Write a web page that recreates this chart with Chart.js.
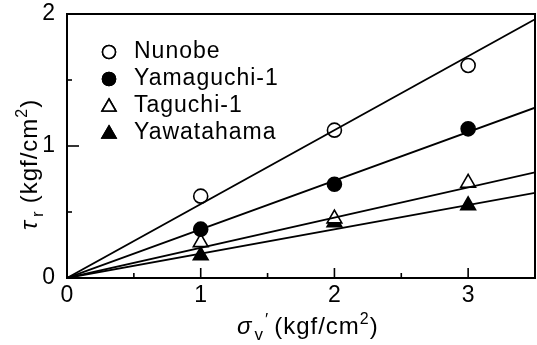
<!DOCTYPE html>
<html>
<head>
<meta charset="utf-8">
<script src="https://cdn.jsdelivr.net/npm/chart.js@4.4.0/dist/chart.umd.min.js"></script>
<style>
  html, body { margin: 0; padding: 0; background: #fff; }
  #wrap { width: 537px; height: 345px; position: relative; }
</style>
</head>
<body>
<div id="wrap"><canvas id="chart"></canvas></div>
<script>
// measured points
const seriesNames = ['Nunobe', 'Yamaguchi-1', 'Taguchi-1', 'Yawatahama'];
const stressX = [1, 2, 3];
const nunobe = [0.62, 1.12, 1.61];
const yamaguchi1 = [0.37, 0.71, 1.13];
const taguchi1 = [0.27, 0.45, 0.72];
const yawatahama = [0.17, 0.42, 0.55];

// fitted lines through the origin (value at the left and right edge)
const fitX = [0, 3.5];
const fitNunobe = [0, 1.96];
const fitYamaguchi1 = [0, 1.29];
const fitTaguchi1 = [0, 0.80];
const fitYawatahama = [0, 0.645];

// tick labels
const xTickLabels = [0, 1, 2, 3];
const yTickLabels = [0, 1, 2];

const FONT = "'Liberation Sans', Arial, Helvetica, sans-serif";

const toPoints = (xs, ys) => xs.map((x, i) => ({ x: x, y: ys[i] }));

const markers = [
  { style: 'circle', fill: '#fff', radius: 7 },
  { style: 'circle', fill: '#000', radius: 7 },
  { style: 'triangle', fill: '#fff', radius: 8.5 },
  { style: 'triangle', fill: '#000', radius: 8.5 },
];
const pointData = [nunobe, yamaguchi1, taguchi1, yawatahama];
const fitData = [fitNunobe, fitYamaguchi1, fitTaguchi1, fitYawatahama];

const datasets = [];
fitData.forEach((ys, i) => {
  datasets.push({
    label: seriesNames[i] + ' fit',
    data: toPoints(fitX, ys),
    showLine: true,
    borderColor: '#000',
    borderWidth: 1.8,
    pointRadius: 0,
    fill: false,
  });
});
pointData.forEach((ys, i) => {
  datasets.push({
    label: seriesNames[i],
    data: toPoints(stressX, ys),
    showLine: false,
    pointStyle: markers[i].style,
    pointRadius: markers[i].radius,
    pointBackgroundColor: markers[i].fill,
    pointBorderColor: '#000',
    pointBorderWidth: 1.6,
  });
});

// draw text pieces one after another, returns the end x
function drawRun(ctx, parts, x, base) {
  parts.forEach(p => {
    ctx.font = p.font;
    ctx.letterSpacing = p.spacing || '0px';
    ctx.fillText(p.text, x + (p.dx || 0), base + (p.dy || 0));
    x += ctx.measureText(p.text).width + (p.dx || 0) + (p.after || 0);
  });
  ctx.letterSpacing = '0px';
  return x;
}

// frame, inward ticks, legend and axis titles
const decorations = {
  id: 'decorations',
  afterDraw(chart) {
    const ctx = chart.ctx;
    const a = chart.chartArea;
    const xs = chart.scales.x;
    const ys = chart.scales.y;
    ctx.save();
    ctx.strokeStyle = '#000';
    ctx.lineWidth = 2;
    ctx.strokeRect(a.left, a.top, a.right - a.left, a.bottom - a.top);

    ctx.lineWidth = 1.6;
    xs.ticks.forEach(t => {
      if (t.value <= xs.min || t.value >= xs.max) return;
      const px = xs.getPixelForValue(t.value);
      const len = Number.isInteger(t.value) ? 10 : 5;
      ctx.beginPath();
      ctx.moveTo(px, a.bottom);
      ctx.lineTo(px, a.bottom - len);
      ctx.stroke();
    });
    ys.ticks.forEach(t => {
      if (t.value <= ys.min || t.value >= ys.max) return;
      const py = ys.getPixelForValue(t.value);
      const len = Number.isInteger(t.value) ? 12 : 5;
      ctx.beginPath();
      ctx.moveTo(a.left, py);
      ctx.lineTo(a.left + len, py);
      ctx.stroke();
    });

    // legend
    ctx.textBaseline = 'middle';
    const rowY = [52, 79, 106, 133];
    seriesNames.forEach((name, i) => {
      const m = markers[i];
      const my = rowY[i];
      ctx.lineWidth = 1.6;
      ctx.fillStyle = m.fill;
      ctx.strokeStyle = '#000';
      Chart.helpers.drawPoint(ctx, {
        pointStyle: m.style,
        radius: m.style === 'circle' ? 6.5 : 8,
        borderWidth: 1.6,
        rotation: 0,
      }, 109, my + (m.style === 'triangle' ? 1 : 0));
      ctx.fill();
      ctx.stroke();
      ctx.fillStyle = '#000';
      ctx.font = '23px ' + FONT;
      ctx.letterSpacing = '1px';
      ctx.fillText(name, 134, my);
      ctx.letterSpacing = '0px';
    });

    // x title: sigma_v' (kgf/cm2)
    ctx.textBaseline = 'alphabetic';
    const f = '24px ' + FONT;
    drawRun(ctx, [
      { text: '\u03C3', font: 'italic 24px ' + FONT, after: 3 },
      { text: 'v', font: '17px ' + FONT, dy: 6 },
      { text: '\u2032', font: '17px ' + FONT, dx: 2, dy: -9, after: 6 },
      { text: '(kgf/cm', font: f, spacing: '1px' },
      { text: '2', font: '16px ' + FONT, dy: -10, after: 1 },
      { text: ')', font: f },
    ], 237, 334);

    // y title: tau_r (kgf/cm2), rotated
    ctx.translate(37, 230);
    ctx.rotate(-Math.PI / 2);
    drawRun(ctx, [
      { text: '\u03C4', font: 'italic 24px ' + FONT, after: 4 },
      { text: 'r', font: '17px ' + FONT, dy: 6, after: 8 },
      { text: '(kgf/cm', font: f, spacing: '1px' },
      { text: '2', font: '16px ' + FONT, dy: -10, after: 1 },
      { text: ')', font: f },
    ], 0, 0);
    ctx.restore();
  }
};

new Chart(document.getElementById('chart'), {
  type: 'scatter',
  data: { datasets: datasets },
  options: {
    responsive: true,
    maintainAspectRatio: false,
    animation: false,
    layout: {
      autoPadding: false,
      padding: { top: 14, right: 2, left: 0, bottom: 0 },
    },
    plugins: {
      legend: { display: false },
      tooltip: { enabled: false },
    },
    scales: {
      x: {
        type: 'linear',
        min: 0,
        max: 3.5,
        grid: { display: false },
        border: { display: false },
        ticks: {
          stepSize: 0.5,
          padding: -4,
          color: '#000',
          font: { family: FONT, size: 23 },
          maxRotation: 0,
          autoSkip: false,
          callback: v => xTickLabels.includes(v) ? String(v) : '',
        },
        afterFit: s => {
          s.height = 67;
          s.paddingLeft = 0;
          s.paddingRight = 0;
        },
      },
      y: {
        type: 'linear',
        min: 0,
        max: 2,
        grid: { display: false },
        border: { display: false },
        ticks: {
          stepSize: 0.5,
          padding: 4,
          color: '#000',
          font: { family: FONT, size: 23 },
          autoSkip: false,
          callback: v => yTickLabels.includes(v) ? String(v) : '',
        },
        afterFit: s => {
          s.width = 67;
          s.paddingTop = 0;
          s.paddingBottom = 0;
        },
      },
    },
  },
  plugins: [decorations],
});
</script>
</body>
</html>
